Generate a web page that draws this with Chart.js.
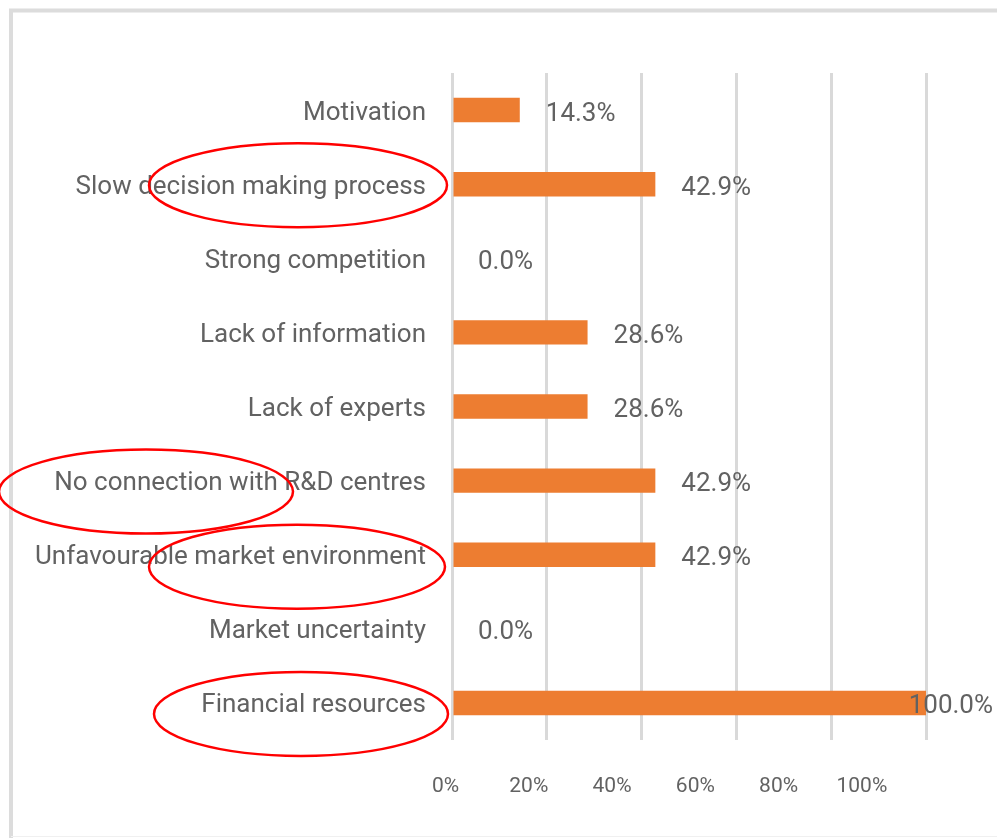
<!DOCTYPE html>
<html>
<head>
<meta charset="utf-8">
<script src="https://cdn.jsdelivr.net/npm/chart.js@4"></script>
<style>
  html, body { margin: 0; padding: 0; background: #fff; }
  #wrap { width: 997px; height: 838px; }
</style>
</head>
<body>
<div id="wrap"><canvas id="myChart01"></canvas></div>
<script>
var categorias = ['Motivation', 'Slow decision making process', 'Strong competition', 'Lack of information',
    'Lack of experts', 'No connection with R&D centres', 'Unfavourable market environment',
    'Market uncertainty', 'Financial resources'];
var valores = [14.3, 42.9, 0.0, 28.6, 28.6, 42.9, 42.9, 0.0, 100.0];
var ticksX = [0, 20, 40, 60, 80, 100];

// red ellipses drawn over the labels (category index + shape)
var elipses = [
    { idx: 1, cx: 298, dy: 1, rx: 149, ry: 42 },
    { idx: 5, cx: 146, dy: 11, rx: 147, ry: 42 },
    { idx: 6, cx: 297, dy: 12, rx: 148, ry: 42 },
    { idx: 8, cx: 301, dy: 11, rx: 147, ry: 42 }
];

var fuente = "Roboto, 'Liberation Sans', sans-serif";
var gris = '#626262';

var marco = {
    id: 'marco',
    beforeDraw: function (chart) {
        var ctx = chart.ctx;
        ctx.save();
        ctx.fillStyle = '#fff';
        ctx.fillRect(0, 0, chart.width, chart.height);
        ctx.strokeStyle = '#dcdcdc';
        ctx.lineWidth = 4;
        ctx.beginPath();
        ctx.moveTo(11, chart.height);
        ctx.lineTo(11, 10.5);
        ctx.lineTo(chart.width, 10.5);
        ctx.stroke();
        ctx.strokeStyle = '#f0f0f0';
        ctx.lineWidth = 1;
        ctx.beginPath();
        ctx.moveTo(11, chart.height - 1.5);
        ctx.lineTo(chart.width, chart.height - 1.5);
        ctx.stroke();
        ctx.restore();
    }
};

var etiquetas = {
    id: 'etiquetas',
    afterDatasetsDraw: function (chart) {
        var ctx = chart.ctx;
        var meta = chart.getDatasetMeta(0);
        ctx.save();
        ctx.font = '26px ' + fuente;
        ctx.fillStyle = gris;
        ctx.textBaseline = 'middle';
        ctx.textAlign = 'left';
        meta.data.forEach(function (bar, i) {
            var txt = valores[i].toFixed(1) + '%';
            var w = ctx.measureText(txt).width;
            var x = Math.min(bar.x + 26, chart.width - 4 - w);
            ctx.fillText(txt, x, bar.y + 4);
        });
        ctx.restore();
    },
    afterDraw: function (chart) {
        var ctx = chart.ctx;
        var y = chart.scales.y;
        ctx.save();
        ctx.strokeStyle = '#ff0000';
        ctx.lineWidth = 2.5;
        elipses.forEach(function (e) {
            ctx.beginPath();
            ctx.ellipse(e.cx, y.getPixelForValue(e.idx) + e.dy, e.rx, e.ry, 0, 0, Math.PI * 2);
            ctx.stroke();
        });
        ctx.restore();
    }
};

var ctx = document.getElementById('myChart01');

var myChart1 = new Chart(ctx, {
    type: 'bar',
    data: {
        labels: categorias,
        datasets: [{
            label: 'Barriers',
            data: valores,
            backgroundColor: '#ED7D31',
            borderWidth: 0,
            barPercentage: 0.33,
            categoryPercentage: 1
        }]
    },
    options: {
        indexAxis: 'y',
        responsive: true,
        maintainAspectRatio: false,
        animation: false,
        layout: { padding: { left: 0, right: 71, top: 73, bottom: 0 } },
        plugins: {
            legend: { display: false },
            tooltip: { enabled: false },
            title: { display: false }
        },
        scales: {
            x: {
                min: 0,
                max: 100,
                position: 'bottom',
                grid: { color: '#d9d9d9', lineWidth: 3, drawTicks: false },
                border: { display: false },
                ticks: { display: false, stepSize: 20 },
                afterFit: function (scale) { scale.height = 0; }
            },
            // the tick labels in the picture sit on a tighter spacing than the gridlines
            x2: {
                type: 'linear',
                position: 'bottom',
                min: 1.56,
                max: 115.4,
                grid: { display: false, drawTicks: false },
                border: { display: false },
                afterBuildTicks: function (scale) {
                    scale.ticks = ticksX.map(function (v) { return { value: v }; });
                },
                ticks: {
                    color: gris,
                    padding: 34,
                    font: { family: fuente, size: 21 },
                    callback: function (v) { return v + '%'; }
                },
                afterFit: function (scale) { scale.height = 98; }
            },
            y: {
                grid: { display: false, drawTicks: false },
                border: { display: false },
                ticks: {
                    color: gris,
                    padding: 26,
                    labelOffset: 3,
                    font: { family: fuente, size: 26 }
                },
                afterFit: function (scale) { scale.width = 452; }
            }
        }
    },
    plugins: [marco, etiquetas]
});
</script>
</body>
</html>
